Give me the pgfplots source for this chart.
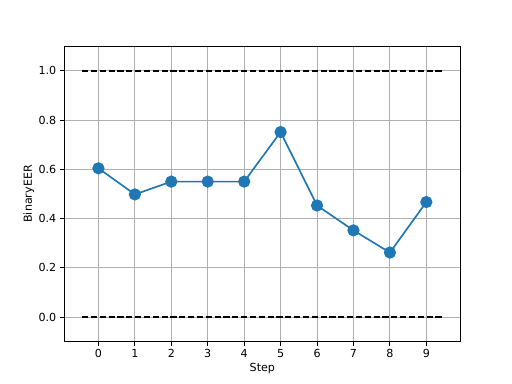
\documentclass[border=0pt]{standalone}
\usepackage{pgfplots}
\pgfplotsset{compat=1.18}
\usepackage{fontspec}
\setmainfont{DejaVu Sans}
\definecolor{mplblue}{HTML}{1F77B4}
\definecolor{gridgray}{HTML}{B0B0B0}
\begin{document}
\begin{tikzpicture}
\useasboundingbox (0,0) rectangle (460.8pt,345.6pt);
\begin{axis}[
  at={(57.6pt,38.02pt)}, anchor=south west,
  scale only axis, width=357.12pt, height=266.11pt,
  xmin=-0.945, xmax=9.945, ymin=-0.1, ymax=1.1,
  xtick={0,1,...,9},
  ytick={0,0.2,0.4,0.6,0.8,1.0},
  yticklabel style={/pgf/number format/.cd, fixed, fixed zerofill, precision=1},
  /pgf/number format/assume math mode=true,
  tick label style={font=\fontsize{10}{12}\selectfont},
  label style={font=\fontsize{10}{12}\selectfont},
  xlabel={Step}, ylabel={BinaryEER},
  grid=major,
  major grid style={gridgray, line width=0.8pt},
  tick align=outside, tick pos=left,
  major tick length=3.5pt,
  every tick/.style={black, line width=0.8pt},
  axis line style={line width=0.8pt},
  xlabel style={yshift=2pt},
  ylabel style={yshift=-3pt},
]
\addplot[black, line width=1.5pt, dash pattern=on 5.55pt off 2.4pt] coordinates {(-0.45,1) (9.45,1)};
\addplot[black, line width=1.5pt, dash pattern=on 5.55pt off 2.4pt] coordinates {(-0.45,0) (9.45,0)};
\addplot[mplblue, line width=1.5pt, mark=*, mark size=5pt, mark options={fill=mplblue, draw=mplblue, line width=1pt}] coordinates {
(0,0.604) (1,0.498) (2,0.55) (3,0.55) (4,0.55) (5,0.751) (6,0.453) (7,0.352) (8,0.262) (9,0.467)
};
\end{axis}
\end{tikzpicture}
\end{document}
